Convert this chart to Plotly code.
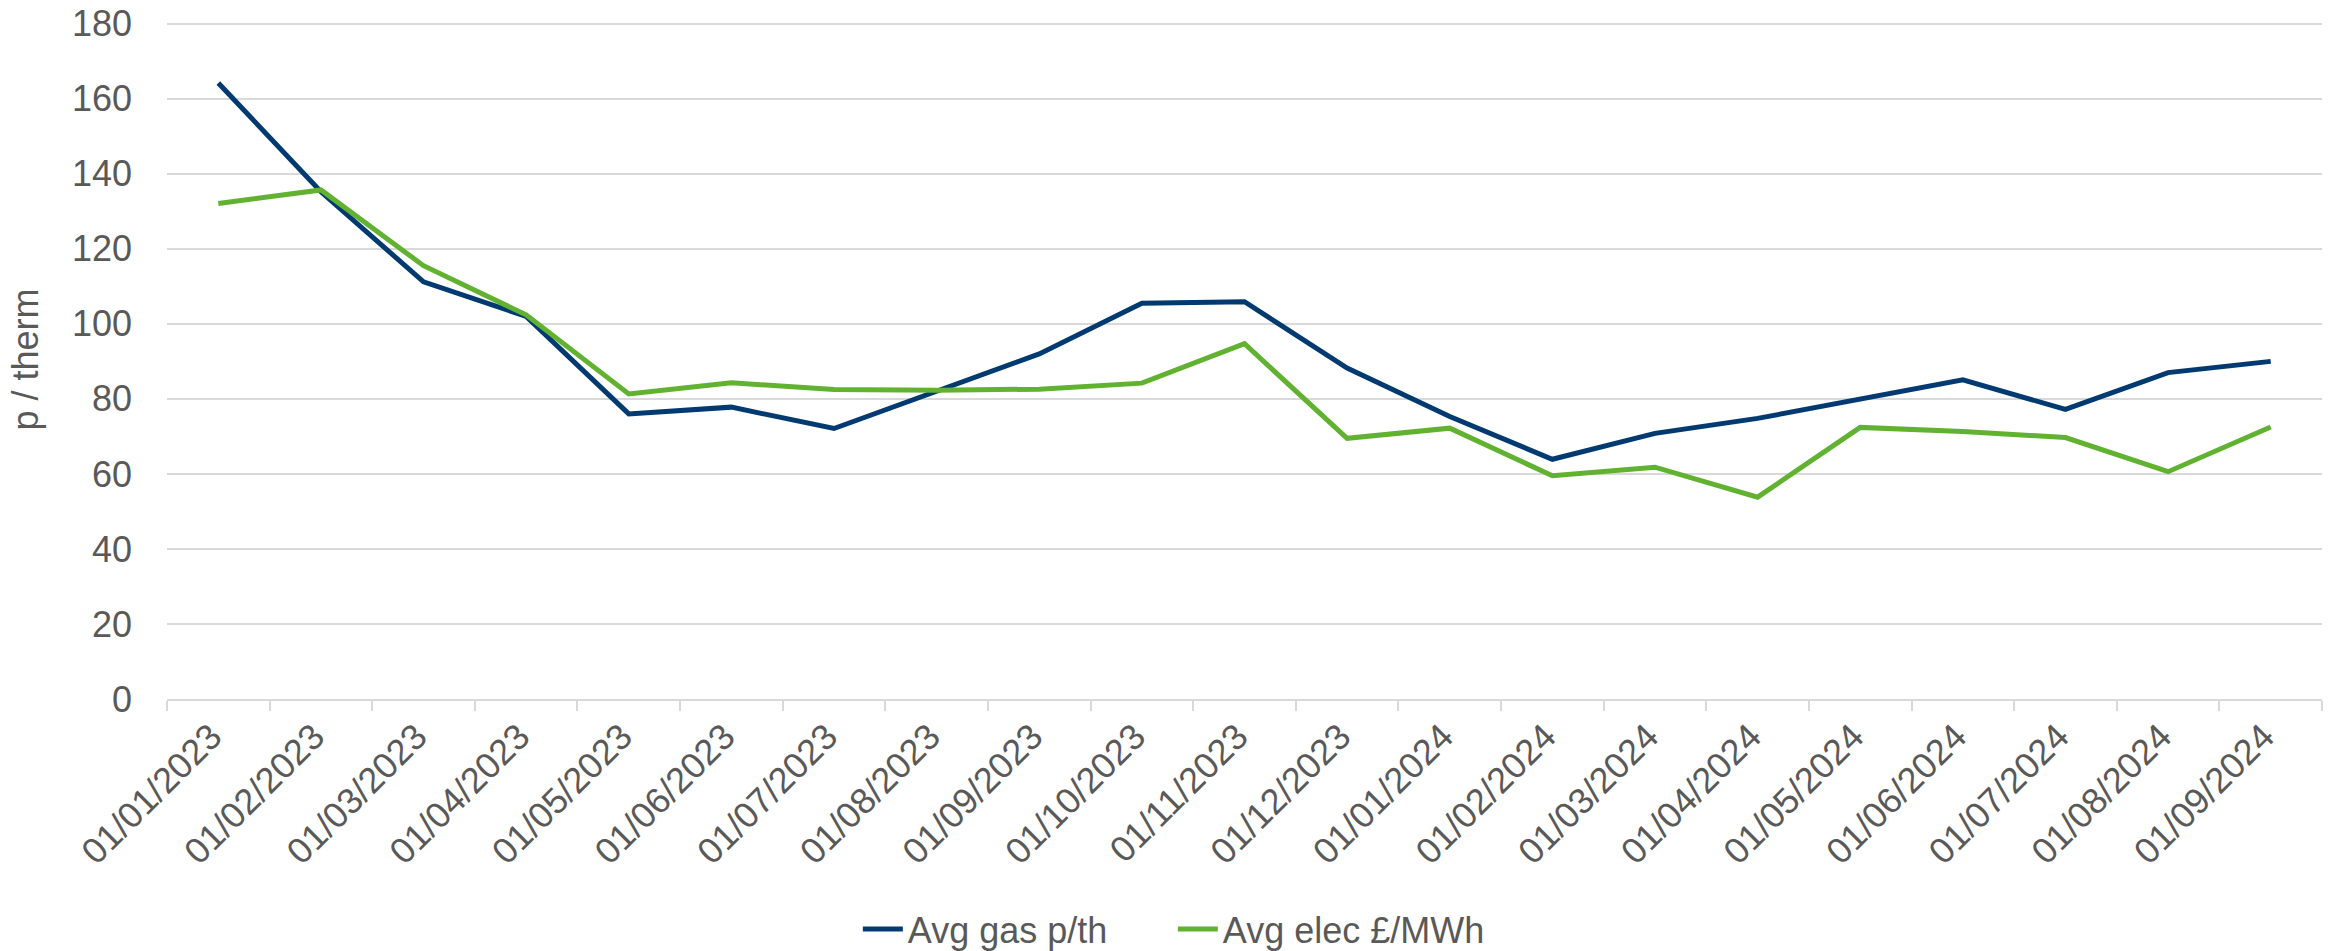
import plotly.graph_objects as go

dates = ["01/01/2023", "01/02/2023", "01/03/2023", "01/04/2023", "01/05/2023",
         "01/06/2023", "01/07/2023", "01/08/2023", "01/09/2023", "01/10/2023",
         "01/11/2023", "01/12/2023", "01/01/2024", "01/02/2024", "01/03/2024",
         "01/04/2024", "01/05/2024", "01/06/2024", "01/07/2024", "01/08/2024",
         "01/09/2024"]
gas = [164.2, 135.2, 111.2, 102.0, 76.0, 77.8, 72.1, 82.0, 92.0, 105.5,
       105.9, 88.2, 75.3, 63.9, 70.8, 74.8, 79.9, 85.1, 77.2, 87.0, 90.0]
elec = [132.1, 135.7, 115.5, 102.4, 81.3, 84.3, 82.5, 82.3, 82.6, 84.2,
        94.7, 69.5, 72.2, 59.5, 61.8, 53.8, 72.4, 71.3, 69.7, 60.6, 72.5]
y_ticks = [0, 20, 40, 60, 80, 100, 120, 140, 160, 180]

FONT = "Liberation Sans, Arial, sans-serif"
GREY = "#595959"
GRID = "#d9d9d9"
FS = 36

fig = go.Figure()
fig.add_trace(go.Scatter(x=dates, y=gas, mode="lines", name="Avg gas p/th",
                         line=dict(color="#003A70", width=5)))
fig.add_trace(go.Scatter(x=dates, y=elec, mode="lines", name="Avg elec £/MWh",
                         line=dict(color="#62B232", width=5)))

fig.update_layout(
    width=2341, height=951,
    paper_bgcolor="white", plot_bgcolor="white",
    margin=dict(l=167, r=19, t=20, b=252, autoexpand=False),
    font=dict(family=FONT, color=GREY, size=FS),
    showlegend=True,
    legend=dict(orientation="h", xref="container", yref="container",
                x=0.501, xanchor="center", y=0.0231, yanchor="middle",
                font=dict(size=FS, color=GREY), itemwidth=40, entrywidth=260,
                traceorder="normal"),
    xaxis=dict(type="category", range=[-0.5, len(dates) - 0.5], tickson="boundaries",
               ticks="outside", ticklen=10, tickcolor=GRID, tickwidth=2,
               showline=True, linecolor=GRID, linewidth=2, showgrid=False,
               tickangle=-45, ticklabelshift=-7, tickfont=dict(size=FS, color=GREY)),
    yaxis=dict(range=[0, 181], tickvals=y_ticks, showgrid=True, gridcolor=GRID,
               gridwidth=2, zeroline=False, showline=False, ticks="",
               ticklabelstandoff=34, tickfont=dict(size=FS, color=GREY),
               title=dict(text="p / therm", font=dict(size=FS, color=GREY), standoff=22)),
)

fig.write_html("out.html", config={"displayModeBar": False},
               post_script="document.body.style.margin='0';")
